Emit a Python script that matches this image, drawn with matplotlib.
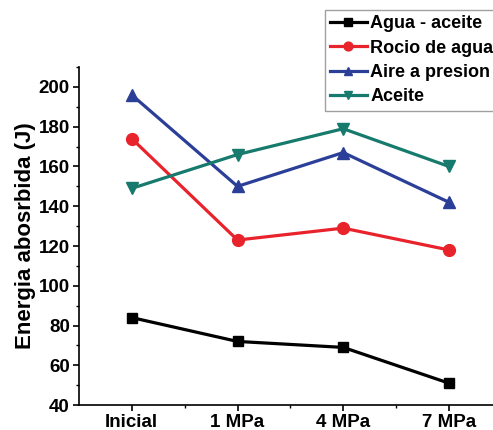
import matplotlib
matplotlib.use("Agg")
import matplotlib.pyplot as plt
from matplotlib.ticker import MultipleLocator, FixedLocator

categories = ["Inicial", "1 MPa", "4 MPa", "7 MPa"]
agua_aceite = [84, 72, 69, 51]
rocio_agua = [174, 123, 129, 118]
aire_presion = [196, 150, 167, 142]
aceite = [149, 166, 179, 160]

plt.rcParams['font.family'] = ['Liberation Sans', 'DejaVu Sans']
plt.rcParams['font.weight'] = 'bold'

fig = plt.figure(figsize=(4.93, 4.30), dpi=100)
ax = fig.add_axes([0.160, 0.058, 0.858, 0.786])

x = list(range(len(categories)))
ax.plot(x, agua_aceite, color="black", marker="s", lw=2.3, ms=7.5, label="Agua - aceite")
ax.plot(x, rocio_agua, color="#e8232b", marker="o", lw=2.3, ms=8.5, label="Rocio de agua")
ax.plot(x, aire_presion, color="#2b3f98", marker="^", lw=2.3, ms=8.5, label="Aire a presion")
ax.plot(x, aceite, color="#167a6c", marker="v", lw=2.3, ms=8.5, label="Aceite")

ax.set_xlim(-0.5, 3.5)
ax.set_ylim(40, 210)
ax.set_xticks(x)
ax.set_xticklabels(categories, fontsize=12.5, fontweight='bold')
ax.xaxis.set_minor_locator(FixedLocator([0.5, 1.5, 2.5]))
ax.yaxis.set_major_locator(MultipleLocator(20))
ax.yaxis.set_minor_locator(MultipleLocator(10))
ax.tick_params(axis='both', which='major', direction='out', length=4.5, width=1.2, labelsize=13.5, pad=2)
ax.tick_params(axis='both', which='minor', direction='out', length=2.5, width=1)
for lab in ax.get_yticklabels():
    lab.set_fontweight('bold')
ax.spines['top'].set_visible(False)
ax.spines['right'].set_visible(False)
ax.spines['left'].set_linewidth(1.2)
ax.spines['bottom'].set_linewidth(1.2)
ax.set_ylabel("Energia abosrbida (J)", fontsize=16, fontweight='bold', labelpad=2)

# legend box runs past the right edge, like the reference
leg = fig.legend(loc='upper left', bbox_to_anchor=(325 / 493, 1 - 10 / 430),
                 fontsize=13, frameon=True, fancybox=False, handlelength=2.0,
                 handletextpad=0.2, borderpad=0.3, labelspacing=0.4,
                 borderaxespad=0, markerscale=0.75)
leg.get_frame().set_edgecolor('#888888')
leg.get_frame().set_linewidth(1)
for t in leg.get_texts():
    t.set_fontweight('bold')

fig.savefig("out.png", dpi=100)
